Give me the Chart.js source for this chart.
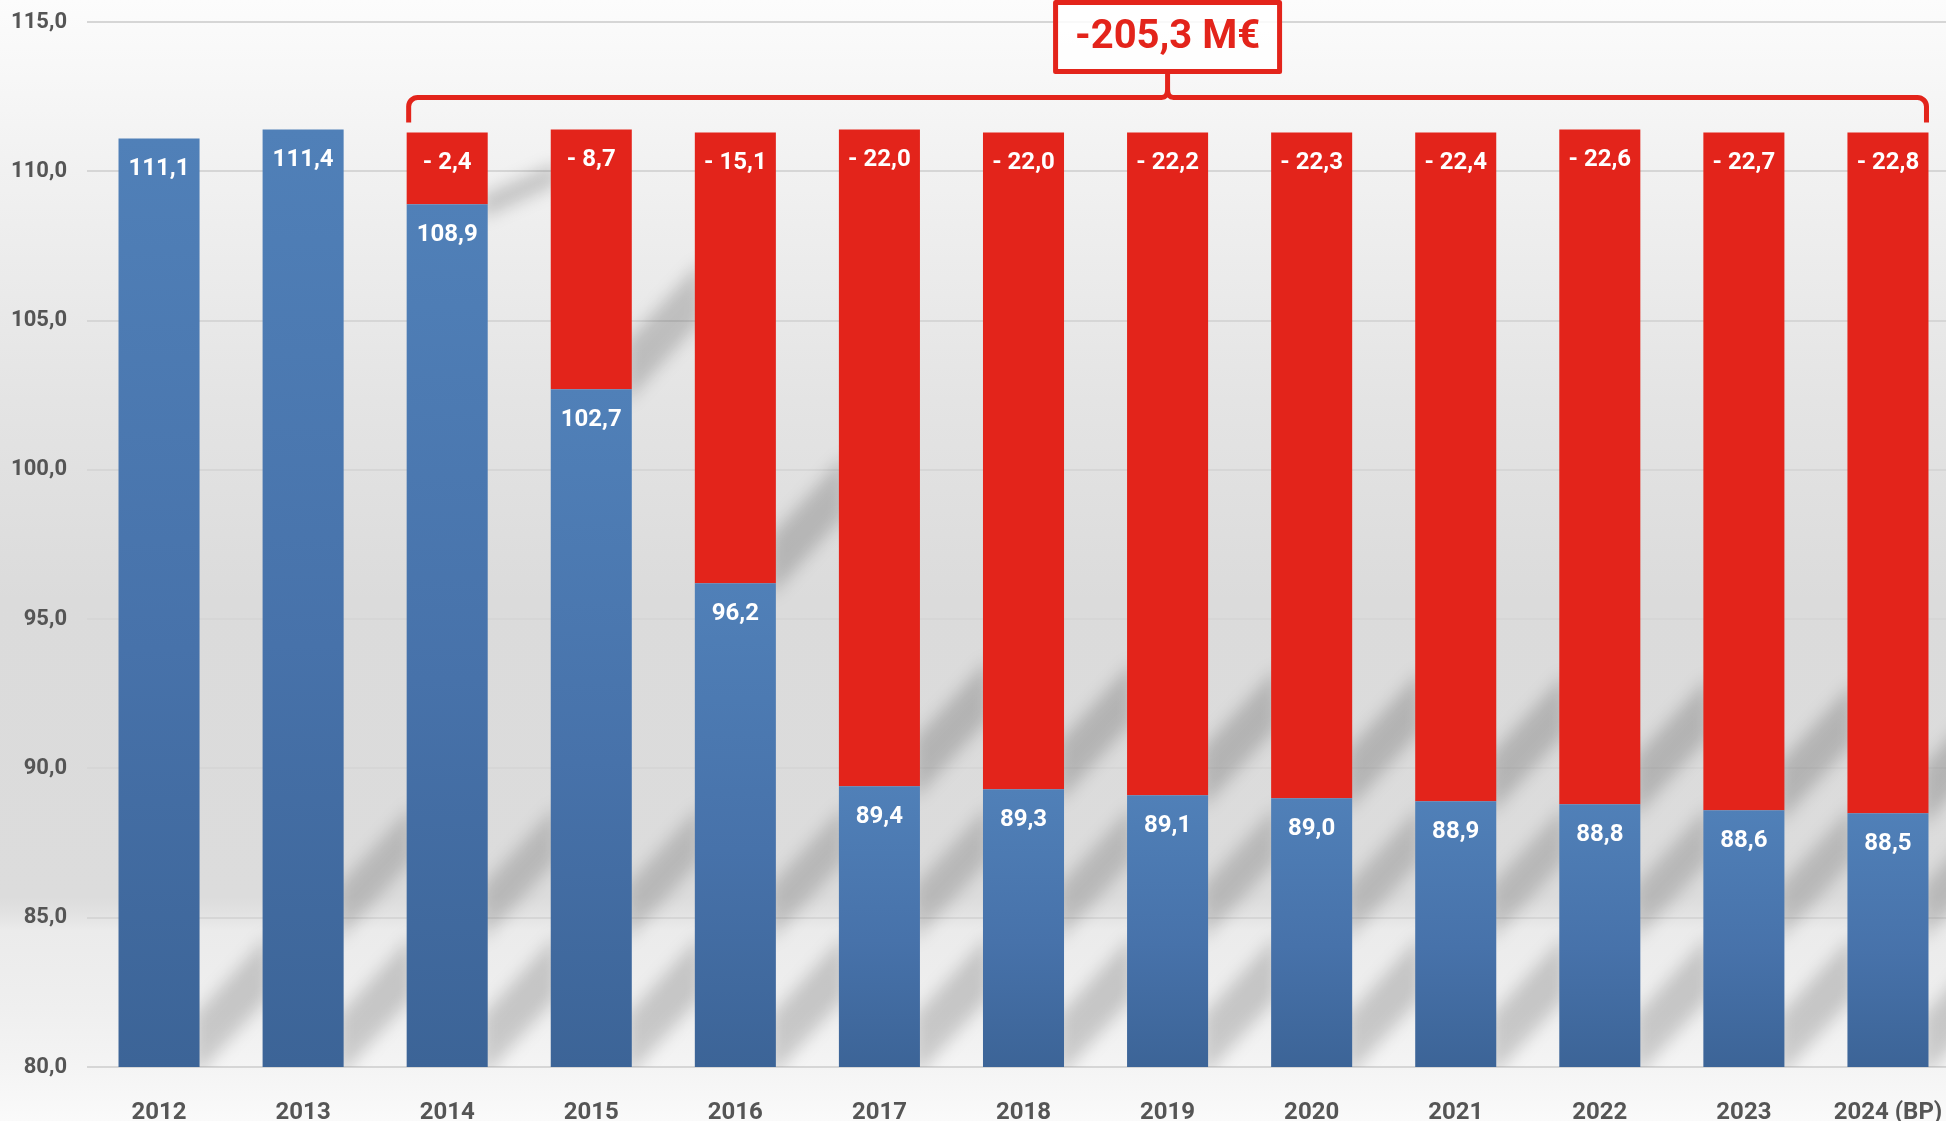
<!DOCTYPE html>
<html>
<head>
<meta charset="utf-8">
<script src="https://cdn.jsdelivr.net/npm/chart.js@4.4.1/dist/chart.umd.min.js"></script>
<style>
    html, body { margin: 0; padding: 0; overflow: hidden; background: #fafafa; }
    #wrap { width: 1960px; height: 1121px; }
</style>
</head>
<body>
<div id="wrap"><canvas id="chart" width="1960" height="1121"></canvas></div>
<script>
// données
const years = ['2012', '2013', '2014', '2015', '2016', '2017', '2018', '2019', '2020', '2021', '2022', '2023', '2024 (BP)'];
const baseValues = [111.1, 111.4, 108.9, 102.7, 96.2, 89.4, 89.3, 89.1, 89.0, 88.9, 88.8, 88.6, 88.5];
const lossValues = [null, null, 2.4, 8.7, 15.1, 22.0, 22.0, 22.2, 22.3, 22.4, 22.6, 22.7, 22.8];
const yMin = 80, yMax = 115, yStep = 5;
const totalLabel = '-205,3 M€';

const RED = '#e3241b';
const FONT = 'Roboto, "DejaVu Sans Condensed", sans-serif';
const PLOT_TOP = 22;

function fmt(v) { return v.toFixed(1).replace('.', ','); }

function blueFill(ctx) {
    const chart = ctx.chart;
    const area = chart.chartArea;
    if (!area || ctx.type !== 'data') return '#4a76ae';
    const top = chart.scales.y.getPixelForValue(baseValues[ctx.dataIndex]);
    const g = chart.ctx.createLinearGradient(0, top, 0, area.bottom);
    g.addColorStop(0, '#5080b8');
    g.addColorStop(0.55, '#4772aa');
    g.addColorStop(1, '#3c6497');
    return g;
}

// fond dégradé gris
const backdrop = {
    id: 'backdrop',
    beforeDraw(chart) {
        const c = chart.ctx, h = chart.height;
        const g = c.createLinearGradient(0, 0, 0, h);
        g.addColorStop(0, '#fcfcfc');
        g.addColorStop(0.153, '#f1f1f1');
        g.addColorStop(0.357, '#e4e4e4');
        g.addColorStop(0.535, '#dbdbdb');
        g.addColorStop(0.80, '#dcdcdc');
        g.addColorStop(0.815, '#e2e2e2');
        g.addColorStop(0.83, '#ebebeb');
        g.addColorStop(0.90, '#efefef');
        g.addColorStop(0.952, '#f4f4f4');
        g.addColorStop(1, '#fafafa');
        c.save();
        c.fillStyle = g;
        c.fillRect(0, 0, chart.width, h);
        c.restore();
    }
};

// ombres diagonales entre les barres
const shadows = {
    id: 'shadows',
    beforeDatasetsDraw(chart) {
        const c = chart.ctx, area = chart.chartArea;
        const blue = chart.getDatasetMeta(0).data;
        const reds = chart.getDatasetMeta(1).data;
        c.save();
        c.beginPath();
        c.rect(area.left, area.top, area.right - area.left, area.bottom - area.top);
        c.clip();
        c.filter = 'blur(8px)';
        const band = (xR, gap, y0, thick, rise, alpha) => {
            c.fillStyle = 'rgba(0,0,0,' + alpha + ')';
            c.beginPath();
            c.moveTo(xR - 6, y0);
            c.lineTo(xR - 6, y0 - thick);
            c.lineTo(xR + gap + 6, y0 - thick - rise);
            c.lineTo(xR + gap + 6, y0 - rise);
            c.closePath();
            c.fill();
        };
        blue.forEach((b, i) => {
            const xR = b.x + b.width / 2;
            const next = blue[i + 1];
            const gap = next ? (next.x - next.width / 2) - xR : b.width * 0.8;
            band(xR, gap, area.bottom + 12, 62, gap * 1.3, 0.17);
            if (i > 0) band(xR, gap, area.bottom - 125, 55, gap * 1.3, 0.16);
            if (lossValues[i]) {
                // l'ombre haute ne dépasse pas le haut des barres rouges
                const y0 = b.y + 14;
                const room = y0 - (reds[i].y + 30);
                const rise = Math.min(gap * 1.3, room * 0.6);
                const thick = Math.min(60, room - rise);
                band(xR, gap, y0, thick, rise, 0.18);
            }
        });
        c.restore();
    }
};

// étiquettes de valeurs
const valueLabels = {
    id: 'valueLabels',
    afterDatasetsDraw(chart) {
        const c = chart.ctx;
        c.save();
        c.font = 'bold 24px ' + FONT;
        c.fillStyle = '#ffffff';
        c.textAlign = 'center';
        c.textBaseline = 'middle';
        chart.data.datasets.forEach((ds, di) => {
            chart.getDatasetMeta(di).data.forEach((el, i) => {
                const v = ds.data[i];
                if (v == null) return;
                const txt = di === 0 ? fmt(v) : '- ' + fmt(v);
                c.fillText(txt, el.x, el.y + 31);
            });
        });
        c.restore();
    }
};

// accolade et total
const bracket = {
    id: 'bracket',
    afterDraw(chart) {
        const c = chart.ctx;
        const reds = chart.getDatasetMeta(1).data.filter((el, i) => lossValues[i] != null);
        if (!reds.length) return;
        const first = reds[0], last = reds[reds.length - 1];
        const left = first.x - first.width / 2 + 2;
        const right = last.x + last.width / 2 - 2;
        const top = Math.min(...reds.map(el => el.y));
        const yEnd = top - 7, yBar = top - 32, yBox = top - 58;
        const mid = (left + right) / 2;
        const r = 9;
        c.save();
        c.strokeStyle = RED;
        c.lineWidth = 5;
        c.lineJoin = 'round';
        c.beginPath();
        c.moveTo(left, yEnd);
        c.arcTo(left, yBar, left + r, yBar, r);
        c.lineTo(mid - 6, yBar);
        c.quadraticCurveTo(mid, yBar, mid, yBar - 8);
        c.lineTo(mid, yBox);
        c.moveTo(mid, yBar - 8);
        c.quadraticCurveTo(mid, yBar, mid + 6, yBar);
        c.arcTo(right, yBar, right, yBar + r, r);
        c.lineTo(right, yEnd);
        c.stroke();

        const bw = 224, bh = 69;
        c.fillStyle = 'rgba(255,255,255,0.85)';
        c.fillRect(mid - bw / 2, yBox - bh, bw, bh);
        c.strokeRect(mid - bw / 2, yBox - bh, bw, bh);
        c.fillStyle = RED;
        c.font = 'bold 40px ' + FONT;
        c.textAlign = 'center';
        c.textBaseline = 'middle';
        c.fillText(totalLabel, mid, yBox - bh / 2 + 1);
        c.restore();
    }
};

const chart = new Chart(document.getElementById('chart'), {
    type: 'bar',
    data: {
        labels: years,
        datasets: [
            { label: 'base', data: baseValues, backgroundColor: blueFill, borderWidth: 0, barPercentage: 0.5625, categoryPercentage: 1 },
            { label: 'perte', data: lossValues, backgroundColor: RED, borderWidth: 0, barPercentage: 0.5625, categoryPercentage: 1 }
        ]
    },
    options: {
        responsive: false,
        animation: false,
        layout: { padding: { top: PLOT_TOP, right: 0, left: 0, bottom: 0 } },
        plugins: { legend: { display: false }, tooltip: { enabled: false } },
        scales: {
            x: {
                stacked: true,
                grid: { display: false },
                border: { display: false },
                ticks: { color: '#555555', font: { family: FONT, size: 24, weight: 'bold' }, padding: 24, maxRotation: 0, autoSkip: false },
                afterFit(scale) { scale.height = 54; scale.paddingLeft = 0; scale.paddingRight = 0; }
            },
            y: {
                stacked: true,
                min: yMin,
                max: yMax,
                grid: { color: '#d6d6d6', lineWidth: 2, drawTicks: false },
                border: { display: false },
                ticks: { stepSize: yStep, color: '#555555', font: { family: FONT, size: 22, weight: 'bold' }, padding: 20, callback: v => fmt(v) },
                afterFit(scale) { scale.width = 87; scale.paddingTop = 0; scale.paddingBottom = 0; }
            }
        }
    },
    plugins: [backdrop, shadows, valueLabels, bracket]
});

// recale la zone de tracé : haut sur la grille 115,0, droite au bord du canevas
for (let k = 0; k < 3; k++) {
    const dTop = chart.chartArea.top - PLOT_TOP;
    const dRight = chart.width - chart.chartArea.right;
    if (!dTop && !dRight) break;
    chart.options.layout.padding.top -= dTop;
    chart.options.layout.padding.right -= dRight;
    chart.update();
}
</script>
</body>
</html>
